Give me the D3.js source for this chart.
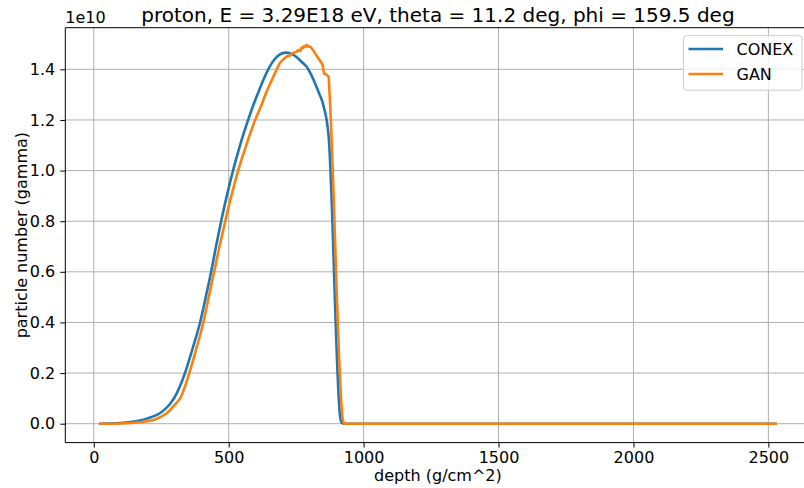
<!DOCTYPE html>
<html>
<head>
<meta charset="utf-8">
<script src="https://cdn.jsdelivr.net/npm/d3@7"></script>
<style>
  html, body { margin: 0; padding: 0; background: #fff; }
  svg { display: block; font-family: "DejaVu Sans", sans-serif; }
</style>
</head>
<body>
<svg id="chart" width="804" height="488"></svg>
<script>
// ---- data (particle numbers in units of 1e10) ----
const titleText = "proton, E = 3.29E18 eV, theta = 11.2 deg, phi = 159.5 deg";
const xTicks = [0, 500, 1000, 1500, 2000, 2500];
const yTicks = [0.0, 0.2, 0.4, 0.6, 0.8, 1.0, 1.2, 1.4];

const depthConex = [20, 50, 100, 150, 200, 250, 280, 300, 320, 338, 367, 394, 415, 435, 453, 472, 493, 516, 542, 572, 590, 610, 630, 650, 670, 690, 710, 730, 750, 770, 789, 805, 820, 835, 845, 855, 863, 870, 913, 918, 930, 2531];
const conex = [0, 0.0005, 0.003, 0.009, 0.021, 0.045, 0.075, 0.105, 0.15, 0.2, 0.3, 0.4, 0.5, 0.6, 0.7, 0.8, 0.9, 1.0, 1.1, 1.2, 1.255, 1.31, 1.362, 1.407, 1.44, 1.459, 1.466, 1.462, 1.45, 1.43, 1.41, 1.38, 1.345, 1.305, 1.279, 1.24, 1.2, 1.14, 0.028, 0.004, 0, 0];

const depthGan = [20, 100, 150, 200, 221, 250, 270, 300, 320, 354, 381, 406, 426, 446, 466, 487, 510, 535, 565, 598, 620, 636, 660, 678, 690, 700, 715, 728, 740, 750, 758, 765, 771, 775, 779, 784, 789, 795, 801, 808, 820, 832, 841, 849, 853, 863, 870, 874, 924, 930, 2531];
const gan = [0, 0.001, 0.004, 0.01, 0.015, 0.028, 0.041, 0.075, 0.1, 0.2, 0.3, 0.4, 0.5, 0.6, 0.7, 0.8, 0.9, 1.0, 1.1, 1.2, 1.255, 1.3, 1.358, 1.4, 1.425, 1.437, 1.45, 1.455, 1.466, 1.468, 1.476, 1.472, 1.487, 1.484, 1.492, 1.488, 1.497, 1.489, 1.49, 1.483, 1.463, 1.444, 1.43, 1.413, 1.384, 1.378, 1.371, 1.3, 0.01, 0, 0];

const seriesNames = ["CONEX", "GAN"];
const seriesColors = ["#1f77b4", "#ff7f0e"];

// ---- layout ----
const svg = d3.select("#chart");
const plot = { left: 65.3, right: 810.6, top: 27.7, bottom: 442.6 };

const x = d3.scaleLinear().domain([-105.5, 2656.5]).range([plot.left, plot.right]);
const y = d3.scaleLinear().domain([-0.0747, 1.5645]).range([plot.bottom, plot.top]);

// grid
const grid = svg.append("g");
grid.selectAll("line.gx").data(xTicks).join("line")
  .attr("x1", d => x(d)).attr("x2", d => x(d))
  .attr("y1", plot.top).attr("y2", plot.bottom)
  .attr("stroke", "#b0b0b0").attr("stroke-width", 1);
grid.selectAll("line.gy").data(yTicks).join("line")
  .attr("x1", plot.left).attr("x2", plot.right)
  .attr("y1", d => y(d)).attr("y2", d => y(d))
  .attr("stroke", "#b0b0b0").attr("stroke-width", 1);

// lines
const seriesData = [
  depthConex.map((d, i) => [d, conex[i]]),
  depthGan.map((d, i) => [d, gan[i]])
];
const line = d3.line().x(d => x(d[0])).y(d => y(d[1])).curve(d3.curveMonotoneX);
seriesData.forEach((s, i) => {
  svg.append("path").datum(s)
    .attr("d", line)
    .attr("fill", "none")
    .attr("stroke", seriesColors[i])
    .attr("stroke-width", 2.6)
    .attr("stroke-linejoin", "round")
    .attr("stroke-linecap", "butt");
});

// axes
const xAxis = d3.axisBottom(x).tickValues(xTicks).tickFormat(d3.format("d")).tickSize(5).tickPadding(4);
const yAxis = d3.axisLeft(y).tickValues(yTicks).tickFormat(d3.format(".1f")).tickSize(5).tickPadding(5);

const gx = svg.append("g").attr("transform", `translate(0,${plot.bottom})`).call(xAxis);
const gy = svg.append("g").attr("transform", `translate(${plot.left},0)`).call(yAxis);
[gx, gy].forEach(g => {
  g.select(".domain").remove();
  g.selectAll(".tick line").attr("stroke", "#000").attr("stroke-width", 1);
  g.selectAll(".tick text").attr("fill", "#000").attr("font-size", 16)
    .attr("font-family", "DejaVu Sans, sans-serif");
});

// spines
svg.append("line").attr("x1", plot.left).attr("x2", plot.left).attr("y1", plot.top).attr("y2", plot.bottom).attr("stroke", "#000").attr("stroke-width", 1);
svg.append("line").attr("x1", plot.left).attr("x2", plot.right).attr("y1", plot.bottom).attr("y2", plot.bottom).attr("stroke", "#000").attr("stroke-width", 1);
svg.append("line").attr("x1", plot.left).attr("x2", plot.right).attr("y1", plot.top).attr("y2", plot.top).attr("stroke", "#000").attr("stroke-width", 1);
svg.append("line").attr("x1", plot.right).attr("x2", plot.right).attr("y1", plot.top).attr("y2", plot.bottom).attr("stroke", "#000").attr("stroke-width", 1);

// offset text
svg.append("text").attr("x", plot.left).attr("y", 23).attr("font-size", 16).attr("fill", "#000").text("1e10");

// title
svg.append("text").attr("x", (plot.left + plot.right) / 2).attr("y", 22)
  .attr("text-anchor", "middle").attr("font-size", 20).attr("fill", "#000").text(titleText);

// axis labels
svg.append("text").attr("x", (plot.left + plot.right) / 2).attr("y", 481)
  .attr("text-anchor", "middle").attr("font-size", 16).attr("fill", "#000").text("depth (g/cm^2)");
svg.append("text").attr("transform", `translate(27,${(plot.top + plot.bottom) / 2}) rotate(-90)`)
  .attr("text-anchor", "middle").attr("font-size", 16).attr("fill", "#000").text("particle number (gamma)");

// legend
const lg = svg.append("g");
lg.append("rect").attr("x", 683.5).attr("y", 35.7).attr("width", 118.5).attr("height", 54.5)
  .attr("rx", 3).attr("fill", "#fff").attr("fill-opacity", 0.8)
  .attr("stroke", "#cccccc").attr("stroke-width", 1);
seriesNames.forEach((n, i) => {
  const yy = 49 + i * 25;
  lg.append("line").attr("x1", 688.5).attr("x2", 723).attr("y1", yy).attr("y2", yy)
    .attr("stroke", seriesColors[i]).attr("stroke-width", 2.6);
  lg.append("text").attr("x", 736.5).attr("y", yy + 6).attr("font-size", 16).attr("fill", "#000").text(n);
});
</script>
</body>
</html>
